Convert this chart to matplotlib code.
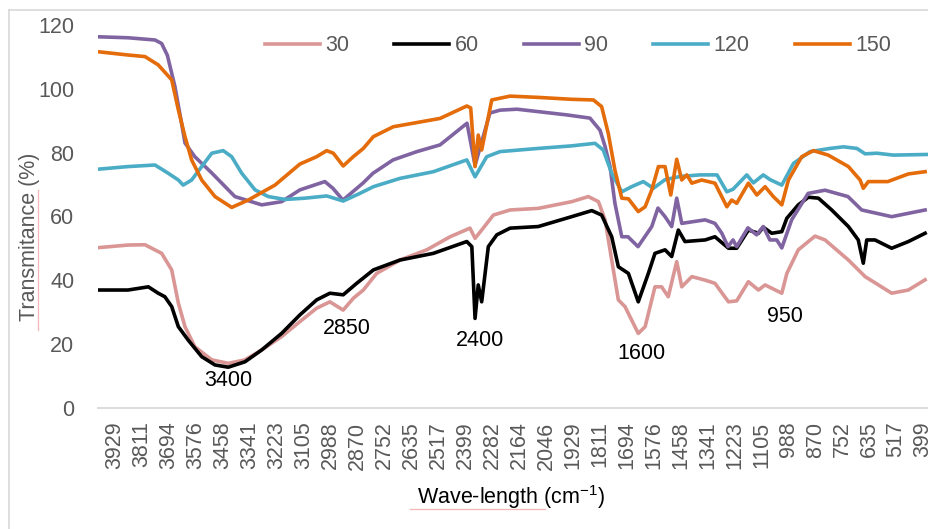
import matplotlib
matplotlib.use("Agg")
import matplotlib.pyplot as plt
from matplotlib.lines import Line2D

plt.rcParams["font.family"] = ["Liberation Sans", "DejaVu Sans"]
plt.rcParams["mathtext.fontset"] = "custom"
plt.rcParams["mathtext.rm"] = "Liberation Sans"

# wavenumber (cm-1) / transmittance (%)
wn_30 = [4000, 3872, 3798, 3725, 3681, 3652, 3623, 3580, 3506, 3434, 3361, 3288,
         3201, 3121, 3048, 2990, 2932, 2888, 2844, 2786, 2684, 2567, 2465, 2378,
         2356, 2327, 2276, 2203, 2080, 1934, 1861, 1817, 1788, 1759, 1730, 1701,
         1672, 1643, 1613, 1570, 1541, 1512, 1475, 1453, 1409, 1351, 1308, 1249,
         1213, 1162, 1118, 1089, 1016, 994, 944, 871, 827, 725, 652, 536, 463, 390]
t_30 = [50.2, 51.0, 51.1, 48.4, 43.2, 32.8, 25.4, 19.1, 15.0, 13.9, 15.0, 18.1,
        22.3, 27.0, 31.2, 33.2, 30.6, 34.3, 36.9, 42.1, 46.3, 49.5, 53.6, 56.3,
        53.1, 55.7, 60.4, 62.0, 62.5, 64.6, 66.2, 64.6, 58.9, 46.3, 33.8, 31.7,
        27.5, 23.3, 25.4, 37.9, 37.9, 34.8, 45.8, 37.9, 41.1, 40.0, 39.0, 33.2,
        33.5, 39.5, 36.9, 38.5, 35.9, 42.1, 49.5, 53.8, 52.6, 46.3, 41.1, 35.9, 36.9, 40.1]

wn_60 = [4000, 3872, 3783, 3740, 3711, 3681, 3652, 3609, 3550, 3492, 3434, 3361,
         3288, 3201, 3121, 3048, 2990, 2932, 2873, 2800, 2684, 2538, 2392, 2370,
         2356, 2342, 2327, 2298, 2261, 2203, 2080, 1934, 1846, 1803, 1759, 1730,
         1686, 1643, 1599, 1570, 1526, 1497, 1468, 1439, 1351, 1308, 1249, 1213,
         1162, 1118, 1097, 1060, 1016, 994, 944, 900, 856, 798, 725, 682, 660,
         645, 609, 536, 463, 390]
t_60 = [36.9, 36.9, 37.9, 35.9, 34.8, 31.7, 25.4, 21.2, 16.0, 13.4, 12.7, 14.4,
        18.1, 23.3, 29.1, 33.8, 35.9, 35.4, 39.0, 43.2, 46.3, 48.4, 52.1, 50.5,
        28.0, 38.5, 33.2, 50.5, 54.2, 56.3, 56.8, 59.9, 61.8, 60.4, 53.6, 44.2,
        42.1, 33.2, 42.1, 48.4, 49.5, 47.4, 55.7, 52.1, 52.6, 53.6, 50.0, 50.0,
        55.7, 54.7, 56.6, 54.7, 55.2, 59.4, 63.6, 66.0, 65.7, 62.0, 56.8, 52.6, 45.3,
        52.6, 52.6, 50.0, 52.1, 54.7]

wn_90 = [4000, 3872, 3754, 3725, 3700, 3667, 3640, 3623, 3580, 3506, 3405, 3288,
         3201, 3121, 3012, 2977, 2933, 2846, 2802, 2714, 2610, 2509, 2391, 2356,
         2291, 2247, 2173, 1954, 1854, 1810, 1788, 1766, 1745, 1715, 1688, 1644,
         1584, 1557, 1526, 1497, 1475, 1453, 1351, 1308, 1278, 1251, 1229, 1213,
         1164, 1126, 1097, 1068, 1038, 1016, 973, 901, 827, 727, 667, 536, 390]
t_90 = [116.3, 116.0, 115.3, 114.2, 110.5, 100.7, 90.0, 83.0, 78.7, 73.6, 66.2, 63.6,
        64.6, 68.3, 70.9, 68.8, 65.1, 70.4, 73.5, 77.7, 80.3, 82.4, 89.2, 76.0,
        92.4, 93.3, 93.6, 91.8, 90.8, 87.0, 81.9, 75.5, 64.1, 53.6, 53.6, 50.5,
        56.8, 62.6, 59.9, 56.8, 65.7, 57.8, 58.9, 57.8, 54.7, 50.5, 52.6, 50.5,
        56.4, 54.2, 56.8, 52.6, 52.6, 50.1, 58.9, 67.2, 68.2, 66.2, 62.0, 59.9, 62.0]

wn_120 = [4000, 3873, 3754, 3696, 3652, 3631, 3594, 3550, 3506, 3456, 3419, 3375,
          3317, 3259, 3186, 3099, 3004, 2932, 2859, 2800, 2684, 2538, 2392, 2356,
          2305, 2247, 2080, 1934, 1832, 1796, 1759, 1715, 1672, 1621, 1577, 1526,
          1460, 1373, 1299, 1256, 1229, 1169, 1140, 1097, 1067, 1016, 965, 893,
          805, 747, 688, 652, 601, 529, 385]
t_120 = [74.8, 75.6, 76.1, 73.5, 71.4, 69.8, 71.4, 75.6, 79.8, 80.6, 78.7, 73.5,
         68.3, 66.2, 65.3, 65.7, 66.4, 64.8, 67.2, 69.3, 71.9, 74.0, 77.7, 72.4,
         78.7, 80.3, 81.3, 82.1, 82.9, 80.8, 73.5, 67.7, 69.3, 70.9, 68.8, 71.5,
         72.5, 73.0, 73.0, 67.7, 68.5, 73.0, 70.5, 73.0, 71.5, 69.8, 76.6, 80.3,
         81.3, 81.8, 81.3, 79.6, 79.8, 79.2, 79.4]

wn_150 = [4000, 3873, 3798, 3740, 3681, 3652, 3623, 3594, 3550, 3492, 3419, 3347,
          3230, 3121, 3048, 3004, 2975, 2932, 2888, 2844, 2800, 2713, 2611, 2509,
          2392, 2375, 2356, 2342, 2327, 2283, 2203, 2080, 1934, 1839, 1803, 1774,
          1745, 1715, 1686, 1643, 1613, 1584, 1555, 1526, 1501, 1475, 1453, 1431,
          1409, 1366, 1308, 1256, 1235, 1213, 1162, 1125, 1089, 1053, 1016, 987,
          929, 878, 813, 725, 674, 660, 638, 553, 463, 390]
t_150 = [111.6, 110.6, 110.1, 107.5, 102.8, 93.4, 85.0, 77.7, 71.4, 66.2, 62.8, 65.1,
         69.8, 76.4, 78.7, 80.6, 79.8, 75.8, 78.7, 81.3, 85.0, 88.1, 89.4, 90.7,
         94.6, 94.0, 75.6, 85.5, 80.8, 96.5, 97.7, 97.3, 96.7, 96.5, 94.4, 86.0,
         74.5, 65.7, 65.5, 61.5, 63.0, 68.3, 75.6, 75.6, 66.7, 77.9, 71.4, 73.0,
         70.4, 71.4, 70.4, 63.0, 65.1, 64.1, 70.4, 66.7, 69.3, 66.2, 63.6, 71.4,
         78.7, 80.6, 79.2, 75.6, 71.4, 68.8, 70.9, 70.9, 73.3, 74.0]

series_names = ["30", "60", "90", "120", "150"]
series_colors = ["#D99694", "#000000", "#8064A2", "#4BACC6", "#E46C0A"]
tick_wn = [3929, 3811, 3694, 3576, 3458, 3341, 3223, 3105, 2988, 2870, 2752,
           2635, 2517, 2399, 2282, 2164, 2046, 1929, 1811, 1694, 1576, 1458,
           1341, 1223, 1105, 988, 870, 752, 635, 517, 399]
peak_labels = ["3400", "2850", "2400", "1600", "950"]

W, H = 929, 529
fig = plt.figure(figsize=(W / 100, H / 100), dpi=100)
ax = fig.add_axes([98 / W, 1 - 407.7 / H, 1 - 98 / W, (407.7 - 25) / H])

grey = "#595959"
xs = [wn_30, wn_60, wn_90, wn_120, wn_150]
ys = [t_30, t_60, t_90, t_120, t_150]
for x, y, name, c in zip(xs, ys, series_names, series_colors):
    ax.plot(x, y, color=c, lw=2.6, label=name, solid_joinstyle="round")

ax.set_xlim(4003, 373)
ax.set_ylim(0, 120)
ax.set_yticks(range(0, 121, 20))
ax.set_xticks(tick_wn)
ax.set_xticklabels([str(t) for t in tick_wn], rotation=90)
ax.tick_params(axis="both", length=0, colors=grey, labelsize=15.5)
ax.tick_params(axis="y", pad=17)
ax.tick_params(axis="x", pad=10)
for edge in ["top", "right", "left"]:
    ax.spines[edge].set_visible(False)
ax.spines["bottom"].set_color("#D9D9D9")
ax.spines["bottom"].set_linewidth(1.3)

# peak annotations
peak_pos = [(3434, 8.6), (2917, 24.9), (2334, 21.2), (1630, 17.1), (1002, 28.5)]
for lab, (px, py) in zip(peak_labels, peak_pos):
    ax.text(px, py, lab, ha="center", va="center", fontsize=15.5, color="black")

fig.legend(
    loc="center", bbox_to_anchor=(578 / W, 1 - 46 / H), ncol=5, frameon=False,
    fontsize=15.5, handlelength=2.55, handletextpad=0.25, columnspacing=2.1,
    labelcolor=grey,
)

fig.text(30 / W, 1 - 237 / H, "Transmitance (%)", rotation=90, ha="center",
         va="center", fontsize=15.5, color=grey)
fig.text(511 / W, 1 - 497 / H, r"Wave-length (cm$^{-1}$)", ha="center",
         va="center", fontsize=15.5, color="black")

# spell-check underlines seen in the picture
fig.add_artist(Line2D([410 / W, 545 / W], [1 - 509 / H, 1 - 509 / H], color="#F4B6B6", lw=0.9))
fig.add_artist(Line2D([38 / W, 38 / W], [1 - 330 / H, 1 - 190 / H], color="#F4B6B6", lw=0.9))

# outer chart border
fig.add_artist(Line2D([9 / W, 1], [1 - 10 / H, 1 - 10 / H], color="#D9D9D9", lw=1.2))
fig.add_artist(Line2D([9 / W, 9 / W], [0, 1 - 10 / H], color="#D9D9D9", lw=1.2))

fig.savefig("out.png", dpi=100)
